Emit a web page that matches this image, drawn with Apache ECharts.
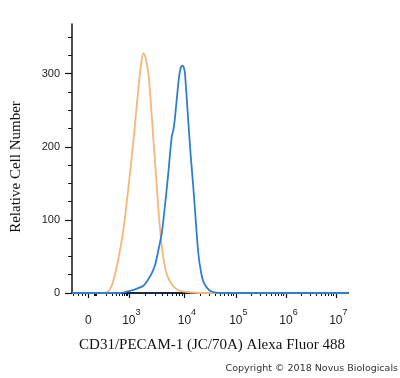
<!DOCTYPE html>
<html>
<head>
<meta charset="utf-8">
<script src="https://cdn.jsdelivr.net/npm/echarts@6/dist/echarts.min.js"></script>
<style>html,body{margin:0;padding:0;background:#fff}#c{width:400px;height:378px}</style>
</head>
<body>
<div id="c"></div>
<script>
// X axis is in display channels (0-1024, logicle-like flow cytometry scale)
const xTickPositions = [61, 211, 417, 608, 794, 979];
const xTickLabels = ['0', '10^3', '10^4', '10^5', '10^6', '10^7'];
const yTickLabels = [0, 100, 200, 300];
const yMinorTicks = [25, 50, 75, 125, 150, 175, 225, 250, 275, 325, 350];

// Isotype control (orange)
const orangeX = [0, 60, 104, 129, 141, 153, 171, 190, 208, 227, 245, 256, 265, 273, 283, 291, 302, 312, 320, 330, 339, 352, 370, 386, 401, 438, 475, 600, 800, 1024];
const orangeY = [0, 0, 0, 1, 5, 16, 45, 85, 140, 205, 275, 312, 328, 322, 301, 268, 209, 160, 117, 75, 48, 25, 12, 6, 3, 1, 0, 0, 0, 0];
// CD31 stained (blue)
const blueX = [0, 60, 120, 178, 215, 241, 265, 282, 297, 308, 319, 333, 345, 357, 370, 376, 382, 390, 397, 404, 411, 415, 419, 431, 440, 450, 460, 469, 479, 487, 501, 518, 549, 700, 900, 1024];
const blueY = [0, 0, 0, 0, 3, 6, 10, 18, 28, 38, 56, 82, 120, 163, 214, 223, 240, 270, 295, 309, 311, 308, 301, 237, 190, 145, 95, 53, 28, 16, 7, 2, 0, 0, 0, 0];

// minor tick positions (log-style subdivisions between decade positions)
const decadePos = [93, 211, 417, 608, 794, 979];
const xMinor = [4, 22, 37, 48, 82, 85, 88, 91];
for (let d = 0; d < decadePos.length - 1; d++) {
  for (let k = 2; k <= 9; k++) {
    xMinor.push(decadePos[d] + Math.log10(k) * (decadePos[d + 1] - decadePos[d]));
  }
}

const zip = (xs, ys) => xs.map((x, i) => [x, ys[i]]);
const chart = echarts.init(document.getElementById('c'));
const gridRect = {left: 72, right: 52, top: 24, bottom: 85};
const XMAX = 1024, YMAX = 368;

chart.setOption({
  animation: false,
  grid: [Object.assign({}, gridRect), Object.assign({}, gridRect)],
  xAxis: [{
    type: 'value', gridIndex: 0, min: 0, max: XMAX,
    axisLine: {show: true, lineStyle: {color: '#1b2a40', width: 2}},
    axisTick: {show: true, length: 5, customValues: xTickPositions, lineStyle: {color: '#111', width: 1.2}},
    splitLine: {show: false},
    axisLabel: {
      customValues: xTickPositions, margin: 15,
      formatter: function (v) {
        const i = xTickPositions.indexOf(v);
        const t = xTickLabels[i] || '';
        if (t.indexOf('^') < 0) return '{n|' + t + '}';
        const p = t.split('^');
        return '{m|' + p[0] + '}{s|' + p[1] + '}';
      },
      rich: {
        n: {fontFamily: 'Liberation Sans', fontSize: 12, color: '#222', lineHeight: 26, verticalAlign: 'middle'},
        m: {fontFamily: 'Liberation Sans', fontSize: 12, color: '#222', lineHeight: 26, verticalAlign: 'middle', padding: [0, 0, 0, 5]},
        s: {fontFamily: 'Liberation Sans', fontSize: 9, color: '#222', lineHeight: 8, verticalAlign: 'top'}
      }
    }
  }, {
    type: 'value', gridIndex: 1, min: 0, max: XMAX,
    axisLine: {show: false},
    axisTick: {show: true, length: 3, customValues: xMinor, lineStyle: {color: '#111', width: 1}},
    axisLabel: {show: false},
    splitLine: {show: false}
  }],
  yAxis: [{
    type: 'value', gridIndex: 0, min: 0, max: YMAX,
    axisLine: {show: true, lineStyle: {color: '#111', width: 1.5}},
    axisTick: {show: true, length: 7, customValues: yTickLabels, lineStyle: {color: '#111', width: 1.2}},
    splitLine: {show: false},
    axisLabel: {customValues: yTickLabels, margin: 12, fontFamily: 'Liberation Sans', fontSize: 11, color: '#222'}
  }, {
    type: 'value', gridIndex: 1, min: 0, max: YMAX,
    axisLine: {show: false},
    axisTick: {show: true, length: 4, customValues: yMinorTicks, lineStyle: {color: '#111', width: 1}},
    axisLabel: {show: false},
    splitLine: {show: false}
  }],
  series: [{
    type: 'line', xAxisIndex: 0, yAxisIndex: 0, data: zip(orangeX, orangeY),
    showSymbol: false, smooth: 0.3, lineStyle: {color: '#f4b67a', width: 1.8}, z: 3
  }, {
    type: 'line', xAxisIndex: 0, yAxisIndex: 0, data: zip(blueX, blueY),
    showSymbol: false, smooth: 0.3, lineStyle: {color: '#2f7fd0', width: 1.8}, z: 4
  }],
  graphic: [{
    type: 'text', x: 16, y: 167, rotation: Math.PI / 2,
    style: {text: 'Relative Cell Number', font: '15px "Liberation Serif"', fill: '#111', align: 'center', verticalAlign: 'middle'}
  }, {
    type: 'text', x: 212, y: 345,
    style: {text: 'CD31/PECAM-1 (JC/70A) Alexa Fluor 488', font: '15px "Liberation Serif"', fill: '#111', align: 'center', verticalAlign: 'middle'}
  }, {
    type: 'text', x: 398, y: 369,
    style: {text: 'Copyright \u00a9 2018 Novus Biologicals', font: '9.5px "DejaVu Sans"', fill: '#333', align: 'right', verticalAlign: 'middle'}
  }]
});
</script>
</body>
</html>
